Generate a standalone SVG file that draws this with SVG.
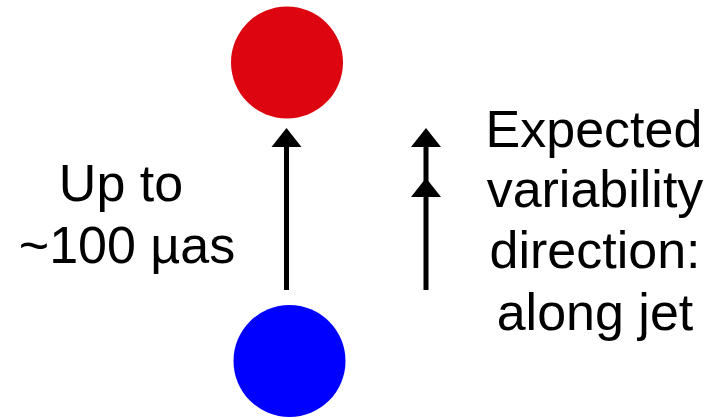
<svg xmlns="http://www.w3.org/2000/svg" width="715" height="418" viewBox="0 0 715 418">
  <style>
    .lbl { font-family: "Liberation Sans", Arial, sans-serif; font-size: 52px; fill: #000; text-anchor: middle; }
    .shaft { stroke: #000; stroke-width: 5; fill: none; }
    .head { fill: #000; }
  </style>
  <rect width="715" height="418" fill="#fff"/>
  <g id="red-component">
    <circle cx="287" cy="62.5" r="56" fill="#DD0510"/>
  </g>
  <g id="blue-component">
    <circle cx="289.5" cy="361" r="56" fill="#0000FF"/>
  </g>
  <g id="connectors">
    <!-- measured offset arrow -->
    <line class="shaft" x1="286.5" y1="290" x2="286.5" y2="140"/>
    <polygon class="head" points="286.5,128 301.5,147 271.5,147"/>
    <!-- expected variability arrow, double head -->
    <line class="shaft" x1="426" y1="290" x2="426" y2="140"/>
    <polygon class="head" points="426,128 441,147 411,147"/>
    <polygon class="head" points="426,178 441,197 411,197"/>
  </g>
  <g id="offset-label">
    <text class="lbl" x="121" y="201">Up to</text>
    <text class="lbl" x="127" y="263">~100 µas</text>
  </g>
  <g id="direction-label">
    <text class="lbl" x="594" y="147">Expected</text>
    <text class="lbl" x="595" y="207">variability</text>
    <text class="lbl" x="595" y="268">direction:</text>
    <text class="lbl" x="595" y="330">along jet</text>
  </g>
</svg>
